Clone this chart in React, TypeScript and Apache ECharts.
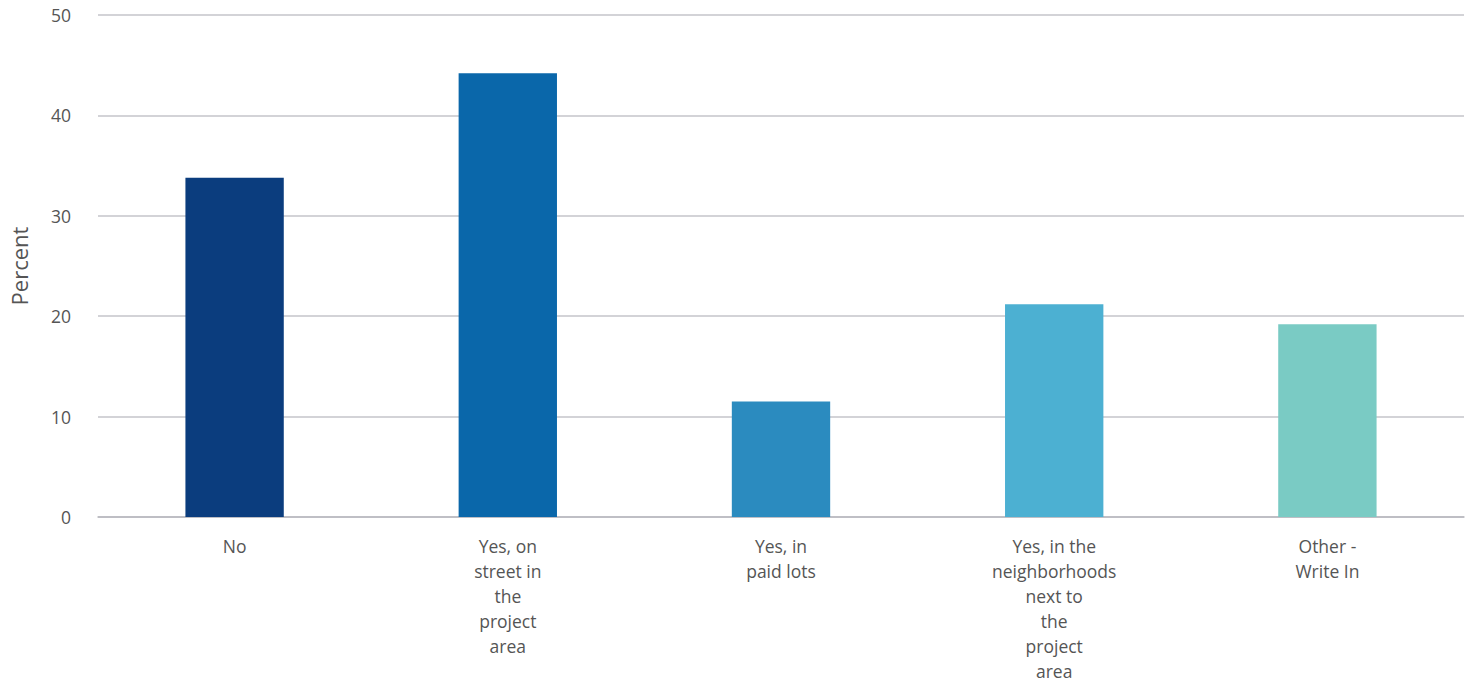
import React, { useEffect, useRef } from "react";
import * as echarts from "echarts";

const categories = [
  "No",
  "Yes, on\nstreet in\nthe\nproject\narea",
  "Yes, in\npaid lots",
  "Yes, in the\nneighborhoods\nnext to\nthe\nproject\narea",
  "Other -\nWrite In",
];
const values = [33.8, 44.2, 11.5, 21.2, 19.2];
const colors = ["#0b3d7e", "#0a67aa", "#2b8bbf", "#4cb0d2", "#7acbc4"];
const yTicks = { min: 0, max: 50, interval: 10 };

const FONT = "'Open Sans', Lato, sans-serif";

export default function App() {
  const ref = useRef<HTMLDivElement>(null);
  useEffect(() => {
    if (!ref.current) return;
    const chart = echarts.init(ref.current, undefined, { renderer: "svg" });
    chart.setOption({
      animation: false,
      grid: { left: 98, right: 7, top: 15, bottom: 162, containLabel: false },
      xAxis: {
        type: "category",
        data: categories,
        axisTick: { show: false },
        axisLine: { lineStyle: { color: "#b8b8bf", width: 1.5 } },
        axisLabel: {
          interval: 0,
          color: "#555555",
          fontFamily: FONT,
          fontSize: 17.5,
          lineHeight: 25,
          margin: 16,
          align: "center",
        },
      },
      yAxis: {
        type: "value",
        min: yTicks.min,
        max: yTicks.max,
        interval: yTicks.interval,
        name: "Percent",
        nameLocation: "middle",
        nameGap: 68,
        nameTextStyle: { color: "#555555", fontFamily: FONT, fontSize: 22 },
        axisLine: { show: false },
        axisTick: { show: false },
        splitLine: { lineStyle: { color: "#c4c4ca", width: 1.5 } },
        axisLabel: { color: "#555555", fontFamily: FONT, fontSize: 17.5, margin: 27 },
      },
      series: [
        {
          type: "bar",
          barWidth: "36%",
          data: values.map((v, i) => ({ value: v, itemStyle: { color: colors[i] } })),
        },
      ],
    });
    return () => chart.dispose();
  }, []);
  return <div ref={ref} style={{ position: "fixed", left: 0, top: 0, width: 1471, height: 683, background: "#fff" }} />;
}
